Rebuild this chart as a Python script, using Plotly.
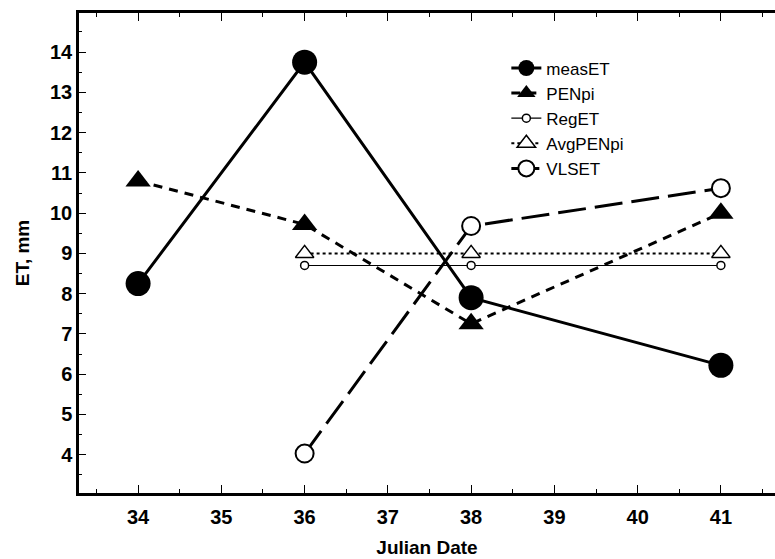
import plotly.graph_objects as go

days_meas = [34, 36, 38, 41]
meas_et = [8.25, 13.75, 7.9, 6.22]
pen_pi = [10.8, 9.72, 7.25, 10.0]

days_model = [36, 38, 41]
reg_et = [8.7, 8.7, 8.7]
avg_pen_pi = [9.0, 9.0, 9.0]
vls_et = [4.03, 9.68, 10.62]

x_ticks = [34, 35, 36, 37, 38, 39, 40, 41]
y_ticks = [4, 5, 6, 7, 8, 9, 10, 11, 12, 13, 14]

FONT = "Arial, Liberation Sans, sans-serif"

fig = go.Figure()
fig.add_trace(go.Scatter(x=days_meas, y=meas_et, name="measET", mode="lines+markers",
                         line=dict(color="black", width=3, dash="solid"),
                         marker=dict(symbol="circle", size=25, color="black")))
fig.add_trace(go.Scatter(x=days_meas, y=pen_pi, name="PENpi", mode="lines+markers",
                         line=dict(color="black", width=3, dash="9px,7px"),
                         marker=dict(symbol="triangle-up", size=22, color="black")))
fig.add_trace(go.Scatter(x=days_model, y=reg_et, name="RegET", mode="lines+markers",
                         line=dict(color="black", width=1.2),
                         marker=dict(symbol="circle", size=8, color="white",
                                     line=dict(color="black", width=1.5))))
fig.add_trace(go.Scatter(x=days_model, y=avg_pen_pi, name="AvgPENpi", mode="lines+markers",
                         line=dict(color="black", width=2, dash="3px,3px"),
                         marker=dict(symbol="triangle-up", size=16, color="white",
                                     line=dict(color="black", width=1.5))))
fig.add_trace(go.Scatter(x=days_model, y=vls_et, name="VLSET", mode="lines+markers",
                         line=dict(color="black", width=3, dash="28px,9px"),
                         marker=dict(symbol="circle", size=18, color="white",
                                     line=dict(color="black", width=2))))

fig.update_layout(
    width=775, height=559,
    margin=dict(l=79, r=0, t=13, b=66),
    paper_bgcolor="white", plot_bgcolor="white",
    font=dict(family=FONT, color="black"),
    showlegend=True,
    legend=dict(x=0.614, y=0.922, xanchor="left", yanchor="top",
                bgcolor="rgba(0,0,0,0)", font=dict(size=17, family=FONT),
                tracegroupgap=0),
    xaxis=dict(range=[33.29, 41.65], tickvals=x_ticks, ticktext=[str(v) for v in x_ticks],
               showgrid=False, zeroline=False, showline=True, linecolor="black", linewidth=2.5,
               mirror="ticks", ticks="inside", ticklen=8, tickwidth=1, tickcolor="black",
               minor=dict(dtick=0.5, ticks="inside", ticklen=4, tickcolor="black", showgrid=False),
               tickfont=dict(size=20, family=FONT, weight="bold"), automargin=False,
               ticklabelstandoff=4,
               title=dict(text="Julian Date", font=dict(size=19, family=FONT, weight="bold"), standoff=14)),
    yaxis=dict(range=[3.05, 14.97], tickvals=y_ticks, ticktext=[str(v) for v in y_ticks],
               showgrid=False, zeroline=False, showline=True, linecolor="black", linewidth=2.5,
               mirror=False, ticks="inside", ticklen=7, tickwidth=1, tickcolor="black",
               minor=dict(dtick=0.5, ticks="inside", ticklen=3, tickcolor="black", showgrid=False),
               tickfont=dict(size=20, family=FONT, weight="bold"), automargin=False,
               title=dict(text="ET, mm", font=dict(size=19, family=FONT, weight="bold"), standoff=16)),
)

fig.write_html("out.html")
